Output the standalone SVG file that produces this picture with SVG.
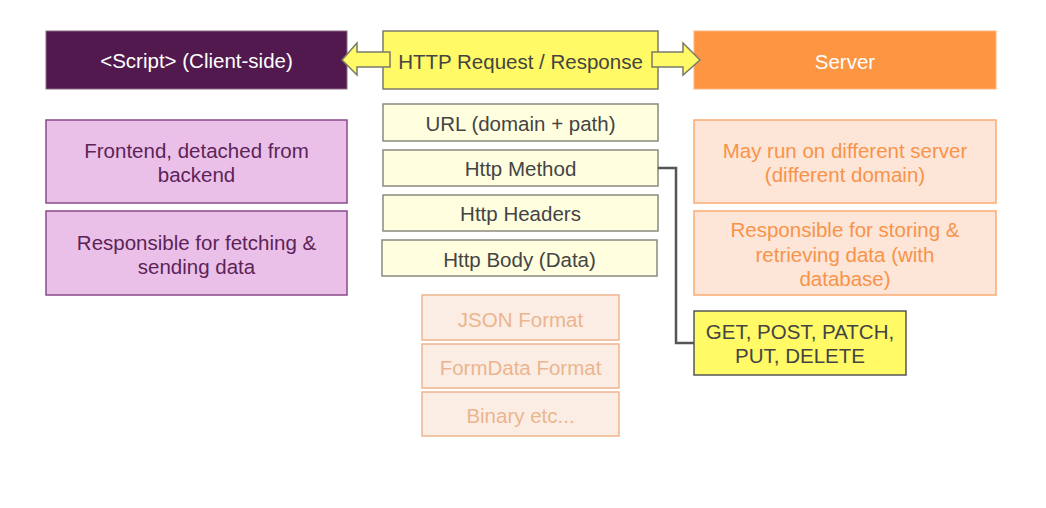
<svg xmlns="http://www.w3.org/2000/svg" width="1046" height="508" viewBox="0 0 1046 508">
<style>
text{font-family:"Liberation Sans","Open Sans",sans-serif;font-size:20.5px;text-anchor:middle;dominant-baseline:central}
.dp{fill:#52194F;stroke:#8a6a88;stroke-width:1}
.lp{fill:#EBC0E8;stroke:#8B4A8A;stroke-width:1.5}
.lpt{fill:#5B2458}
.yl{fill:#FFFA66;stroke:#7a7a6a;stroke-width:1.5}
.ly{fill:#FFFFE0;stroke:#8a8a80;stroke-width:1.5}
.lyt{fill:#444}
.or{fill:#FD9542;stroke:#FDB47a;stroke-width:1}
.lo{fill:#FDE5D8;stroke:#FBAA70;stroke-width:1.5}
.lot{fill:#F7944A}
.pe{fill:#FBEDE4;stroke:#EEB58E;stroke-width:1.5}
.pet{fill:#EBB58F}
.w{fill:#fff}
.arr{fill:#FFFA66;stroke:#7a7a6a;stroke-width:1.5}
</style>
<rect width="1046" height="508" fill="#fff"/>
<g id="script"><rect class="dp" x="46" y="31" width="301" height="58"/><text class="w" x="196.5" y="60">&lt;Script&gt; (Client-side)</text></g>
<g id="frontend"><rect class="lp" x="46" y="120" width="301" height="83"/><text class="lpt"><tspan x="196.5" y="150">Frontend, detached from</tspan><tspan x="196.5" y="174">backend</tspan></text></g>
<g id="fetching"><rect class="lp" x="46" y="211" width="301" height="84"/><text class="lpt"><tspan x="196.5" y="242">Responsible for fetching &amp;</tspan><tspan x="196.5" y="266">sending data</tspan></text></g>
<g id="http"><rect class="yl" x="383" y="31" width="275" height="58"/><text class="lyt" x="520.5" y="61">HTTP Request / Response</text></g>
<g id="url"><rect class="ly" x="383" y="104" width="275" height="37"/><text class="lyt" x="520.5" y="123">URL (domain + path)</text></g>
<g id="method"><rect class="ly" x="383" y="150" width="275" height="36"/><text class="lyt" x="520.5" y="168">Http Method</text></g>
<g id="headers"><rect class="ly" x="383" y="195" width="275" height="36"/><text class="lyt" x="520.5" y="213">Http Headers</text></g>
<g id="body"><rect class="ly" x="382" y="240" width="275" height="36"/><text class="lyt" x="519.5" y="259">Http Body (Data)</text></g>
<g id="json"><rect class="pe" x="422" y="295" width="197" height="45"/><text class="pet" x="520.5" y="319">JSON Format</text></g>
<g id="formdata"><rect class="pe" x="422" y="344" width="197" height="44"/><text class="pet" x="520.5" y="367">FormData Format</text></g>
<g id="binary"><rect class="pe" x="422" y="392" width="197" height="44"/><text class="pet" x="520.5" y="415">Binary etc...</text></g>
<g id="server"><rect class="or" x="694" y="31" width="302" height="58"/><text class="w" x="845" y="61">Server</text></g>
<g id="diffserver"><rect class="lo" x="694" y="120" width="302" height="83"/><text class="lot"><tspan x="845" y="150">May run on different server</tspan><tspan x="845" y="174">(different domain)</tspan></text></g>
<g id="storing"><rect class="lo" x="694" y="211" width="302" height="84"/><text class="lot"><tspan x="845" y="229">Responsible for storing &amp;</tspan><tspan x="845" y="254">retrieving data (with</tspan><tspan x="845" y="278">database)</tspan></text></g>
<g id="methods"><rect class="yl" x="694" y="311" width="212" height="64" style="stroke:#555"/><text class="lyt"><tspan x="800" y="331">GET, POST, PATCH,</tspan><tspan x="800" y="355">PUT, DELETE</tspan></text></g>
<g id="connectors">
<path d="M658,168 H676 V343 H694" fill="none" stroke="#555" stroke-width="2.5"/>
<path class="arr" d="M342,60 L357,43 V52 H390 V67 H357 V75 Z"/>
<path class="arr" d="M700,60 L683,43 V52 H652 V67 H683 V75 Z"/>
</g>
</svg>
